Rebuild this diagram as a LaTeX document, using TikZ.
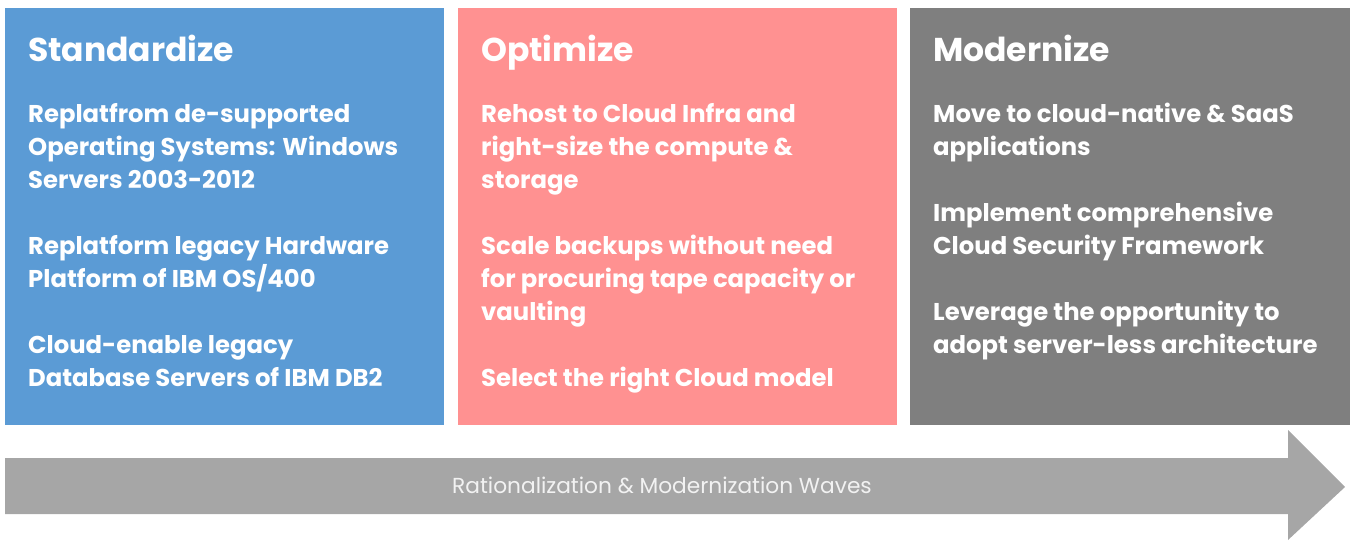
\documentclass[tikz,border=0pt]{standalone}
\usepackage{fontspec}
\setmainfont{Poppins}
\definecolor{stdblue}{HTML}{5B9BD5}
\definecolor{optpink}{HTML}{FF9191}
\definecolor{modgray}{HTML}{7F7F7F}
\definecolor{wavegray}{HTML}{A6A6A6}
\definecolor{wavetext}{HTML}{F2F2F2}
\tikzset{
  panel/.style={fill=#1, draw=none},
  title/.style={anchor=base west, text=white, inner sep=0pt,
    font=\fontsize{33}{40}\selectfont\bfseries},
  % base anchor of a multi-line item sits on its last line
  item/.style={anchor=base west, text=white, inner sep=0pt, align=left,
    font=\fontsize{24.3}{33}\selectfont\bfseries},
  wave/.style={text=wavetext, inner sep=0pt, font=\fontsize{21.7}{26}\selectfont}
}
\begin{document}
\begin{tikzpicture}[x=1pt,y=-1pt]
\useasboundingbox (0,0) rectangle (1350,541);
% three stage panels
\fill[panel=stdblue] (5,8) rectangle (444,425);
\fill[panel=optpink] (458,8) rectangle (897,425);
\fill[panel=modgray] (910,8) rectangle (1350,425);
% wave arrow
\fill[wavegray] (5,458) -- (1288,458) -- (1288,430) -- (1345,487) -- (1288,540) -- (1288,514) -- (5,514) -- cycle;
\node[wave] (waves) at (662,485) {Rationalization \& Modernization Waves};
% Standardize
\node[title] (t1) at (28,61) {Standardize};
\node[item] (s1) at (28,188) {Replatfrom de-supported\\Operating Systems: Windows\\Servers 2003-2012};
\node[item] (s2) at (28,287) {Replatform legacy Hardware\\Platform of IBM OS/400};
\node[item] (s3) at (28,386) {Cloud-enable legacy\\Database Servers of IBM DB2};
% Optimize
\node[title] (t2) at (481,61) {Optimize};
\node[item] (o1) at (481,188) {Rehost to Cloud Infra and\\right-size the compute \&\\storage};
\node[item] (o2) at (481,320) {Scale backups without need\\for procuring tape capacity or\\vaulting};
\node[item] (o3) at (481,386) {Select the right Cloud model};
% Modernize
\node[title] (t3) at (933,61) {Modernize};
\node[item] (m1) at (933,155) {Move to cloud-native \& SaaS\\applications};
\node[item] (m2) at (933,254) {Implement comprehensive\\Cloud Security Framework};
\node[item] (m3) at (933,353) {Leverage the opportunity to\\adopt server-less architecture};
\end{tikzpicture}
\end{document}
